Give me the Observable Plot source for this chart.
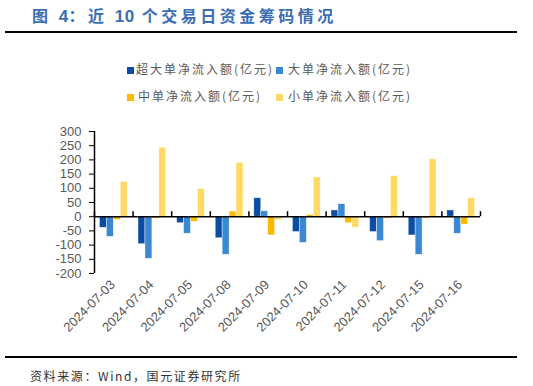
<!DOCTYPE html>
<html>
<head>
<meta charset="utf-8">
<script src="https://cdn.jsdelivr.net/npm/d3@7"></script>
<script src="https://cdn.jsdelivr.net/npm/@observablehq/plot@0.6"></script>
<style>
  html, body { margin: 0; padding: 0; background: #fff; }
  #wrap { position: relative; width: 533px; height: 386px; overflow: hidden; font-family: "Liberation Sans", Arial, sans-serif; }
  #title { position: absolute; left: 32px; top: 3px; font-family: "Noto Sans CJK SC", sans-serif; font-weight: bold; font-size: 16px; color: #3A6DB5; white-space: nowrap; }
  #title span { letter-spacing: 3.5px; }
  #title span.num { letter-spacing: 0.5px; font-family: "Liberation Sans", Arial, sans-serif; font-size: 17px; }
  .hr { position: absolute; left: 5px; width: 512px; height: 2px; background: #000; }
  .leg { position: absolute; font-family: "Noto Sans CJK SC", sans-serif; font-size: 12px; color: #595959; white-space: nowrap; letter-spacing: 2px; line-height: 14px; }
  .sw { position: absolute; width: 7px; height: 7px; }
  #chart { position: absolute; left: 0; top: 118px; }
  #caption { position: absolute; left: 30px; top: 367px; font-family: "Noto Sans CJK SC", sans-serif; font-size: 12px; color: #333; white-space: nowrap; letter-spacing: 1.6px; }
</style>
</head>
<body>
<div id="wrap">
  <div id="title"></div>
  <div class="hr" style="top:31px"></div>
  <div id="legend"></div>
  <div id="chart"></div>
  <div class="hr" style="top:356px"></div>
  <div id="caption"></div>
</div>
<script>
const titleParts = ["图 ", "4", "：近 ", "10", " 个交易日资金筹码情况"];
const captionText = "资料来源：Wind，国元证券研究所";
const dates = ["2024-07-03","2024-07-04","2024-07-05","2024-07-08","2024-07-09","2024-07-10","2024-07-11","2024-07-12","2024-07-15","2024-07-16"];
const seriesNames = ["超大单净流入额(亿元)","大单净流入额(亿元)","中单净流入额(亿元)","小单净流入额(亿元)"];
const seriesColors = ["#0B4DA2","#3A87D2","#FBB800","#FFD966"];
const superLarge = [-39, -97, -23, -76, 65, -54, 22, -54, -66, 22];
const large      = [-71, -148, -60, -134, 19, -92, 44, -86, -134, -60];
const medium     = [-12, -7, -18, 18, -66, 6, -23, -7, -7, -28];
const small      = [122, 243, 97, 190, -12, 138, -39, 143, 202, 65];
const yTicks = [-200,-150,-100,-50,0,50,100,150,200,250,300];

const titleEl = document.getElementById("title");
titleParts.forEach(p => {
  const s = document.createElement("span");
  if (/^\d+$/.test(p)) s.className = "num";
  s.textContent = p;
  titleEl.appendChild(s);
});
document.getElementById("caption").textContent = captionText;

// legend
const legend = document.getElementById("legend");
const legPos = [[127,136,70],[276,288,70],[127,138,97],[276,288,97]];
seriesNames.forEach((n, k) => {
  const [sx, tx, cy] = legPos[k];
  const sw = document.createElement("div");
  sw.className = "sw";
  sw.style.left = sx + "px"; sw.style.top = (cy - 3) + "px"; sw.style.background = seriesColors[k];
  legend.appendChild(sw);
  const t = document.createElement("div");
  t.className = "leg";
  t.style.left = tx + "px"; t.style.top = (cy - 8) + "px";
  t.textContent = n;
  legend.appendChild(t);
});

const allSeries = [superLarge, large, medium, small];
const barW = 0.18;
const rows = [];
allSeries.forEach((vals, k) => {
  vals.forEach((v, i) => {
    rows.push({i, k, v, x1: i + 0.5 + (k - 2) * barW, x2: i + 0.5 + (k - 1) * barW});
  });
});
const bounds = d3.range(0, dates.length + 1);

const plot = Plot.plot({
  width: 533,
  height: 238,
  marginLeft: 94,
  marginRight: 53,
  marginTop: 13,
  marginBottom: 83,
  style: {fontFamily: "'Liberation Sans', Arial, sans-serif", fontSize: "13px", background: "transparent"},
  x: {domain: [0, dates.length], axis: null},
  y: {domain: [-200, 300], axis: null, label: null},
  color: {domain: [0,1,2,3], range: seriesColors},
  marks: [
    Plot.rectY(rows, {x1: "x1", x2: "x2", y: "v", fill: d => d.k, stroke: "#fff", strokeWidth: 0.6, strokeOpacity: 0.7}),
    Plot.axisY({ticks: yTicks, tickSize: 5, tickPadding: 8, stroke: "#000", fill: "#595959", fontSize: 13, label: null, tickFormat: d => String(d)}),
    Plot.ruleX([0], {y1: -200, y2: 300, stroke: "#000", strokeWidth: 1.5}),
    Plot.ruleY([0], {stroke: "#000", strokeWidth: 1.5}),
    Plot.ruleX(bounds, {x: d => d, y1: 0, y2: 0, insetBottom: 5, stroke: "#000", strokeWidth: 1.5}),
    Plot.text(dates, {x: (d, i) => i + 0.5, frameAnchor: "bottom", text: d => d, rotate: -45, textAnchor: "end", dy: 12, dx: 2, fill: "#595959", fontSize: 13})
  ]
});
document.getElementById("chart").appendChild(plot);
</script>
</body>
</html>
